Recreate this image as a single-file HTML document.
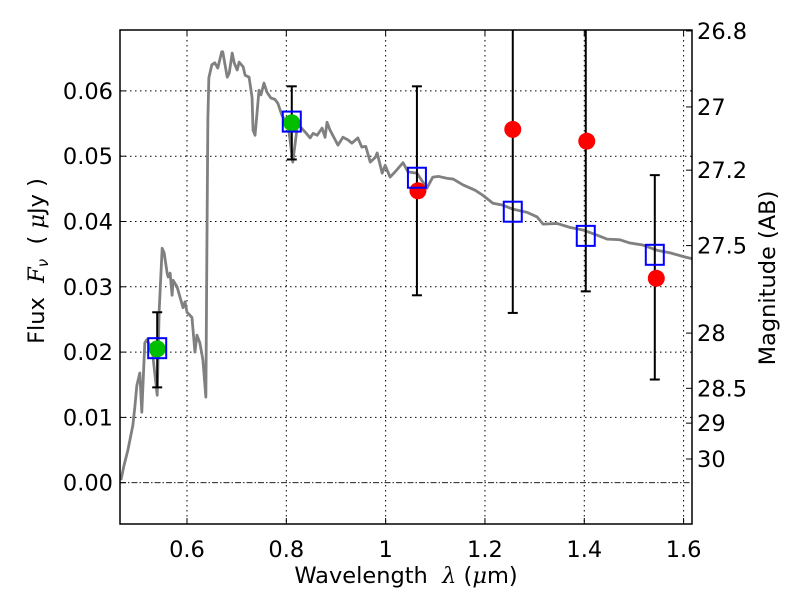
<!DOCTYPE html>
<html><head><meta charset="utf-8"><style>
body{margin:0;background:#fff}
svg{display:block;font-family:"DejaVu Sans","Liberation Sans",sans-serif}
</style></head><body>
<svg id="chart" width="800" height="600" viewBox="0 0 800 600"></svg>
<script>
const specLam=[0.467,0.473,0.481,0.491,0.495,0.499,0.505,0.509,0.515,0.519,0.530,0.540,0.544,0.550,0.554,0.560,0.562,0.566,0.570,0.572,0.580,0.586,0.592,0.596,0.600,0.610,0.616,0.620,0.626,0.632,0.638,0.640,0.642,0.644,0.650,0.656,0.662,0.670,0.672,0.681,0.685,0.691,0.695,0.701,0.705,0.713,0.717,0.725,0.731,0.733,0.737,0.741,0.745,0.749,0.755,0.761,0.769,0.777,0.783,0.791,0.797,0.803,0.813,0.822,0.828,0.838,0.848,0.854,0.862,0.872,0.878,0.882,0.888,0.904,0.914,0.924,0.932,0.944,0.952,0.960,0.969,0.979,0.983,0.993,0.999,1.009,1.019,1.035,1.045,1.063,1.083,1.095,1.107,1.124,1.136,1.156,1.180,1.196,1.216,1.236,1.256,1.285,1.305,1.317,1.345,1.371,1.397,1.426,1.446,1.472,1.492,1.518,1.546,1.573,1.601,1.617];
const specFlux=[0.0004,0.0026,0.0050,0.0088,0.0116,0.0149,0.0168,0.0108,0.0214,0.0219,0.0203,0.0134,0.0264,0.0359,0.0352,0.0321,0.0315,0.0321,0.0287,0.0310,0.0300,0.0284,0.0268,0.0277,0.0261,0.0253,0.0200,0.0226,0.0214,0.0188,0.0131,0.0352,0.0556,0.0620,0.0640,0.0643,0.0635,0.0660,0.0660,0.0621,0.0627,0.0658,0.0643,0.0632,0.0644,0.0637,0.0624,0.0621,0.0590,0.0540,0.0532,0.0566,0.0601,0.0594,0.0612,0.0598,0.0589,0.0587,0.0581,0.0563,0.0555,0.0552,0.0491,0.0545,0.0545,0.0537,0.0528,0.0535,0.0532,0.0543,0.0529,0.0552,0.0540,0.0517,0.0529,0.0525,0.0520,0.0528,0.0514,0.0515,0.0491,0.0498,0.0505,0.0474,0.0486,0.0468,0.0476,0.0490,0.0476,0.0474,0.0451,0.0468,0.0469,0.0466,0.0465,0.0456,0.0448,0.0440,0.0428,0.0425,0.0419,0.0414,0.0407,0.0396,0.0397,0.0391,0.0387,0.0379,0.0373,0.0372,0.0367,0.0364,0.0356,0.0352,0.0346,0.0343];
const modelLam=[0.54,0.811,1.063,1.256,1.403,1.542];
const modelFlux=[0.0206,0.0553,0.0467,0.0415,0.0378,0.0349];
const errLow=[0.0146,0.0495,0.0287,0.0260,0.0293,0.0158];
const errHigh=[0.0261,0.0607,0.0607,0.080,0.080,0.0471];
const greenLam=[0.54,0.811];
const greenFlux=[0.0205,0.0551];
const redLam=[1.065,1.256,1.405,1.545];
const redFlux=[0.0447,0.0541,0.0523,0.0313];
const xTicks=[0.6,0.8,1.0,1.2,1.4,1.6];
const xTickLabels=["0.6","0.8","1","1.2","1.4","1.6"];
const yTicks=[0,0.01,0.02,0.03,0.04,0.05,0.06];
const yTickLabels=["0.00","0.01","0.02","0.03","0.04","0.05","0.06"];
const magTicks=[26.8,27,27.2,27.5,28,28.5,29,30];
const magTickLabels=["26.8","27","27.2","27.5","28","28.5","29","30"];

const L=120,R=692,T=30,B=524;
const X=l=>187+(l-0.6)*496.6;
const Y=f=>482.7-f*6530;
const NS="http://www.w3.org/2000/svg";
const svg=document.getElementById('chart');
function mk(tag,attrs,parent){const e=document.createElementNS(NS,tag);for(const k in attrs)e.setAttribute(k,attrs[k]);(parent||svg).appendChild(e);return e;}
const defs=mk('defs',{});
const cp=mk('clipPath',{id:'pc'},defs);mk('rect',{x:L,y:T,width:R-L,height:B-T},cp);

const grid=mk('g',{});


xTicks.forEach(t=>{mk('line',{x1:X(t),x2:X(t),y1:T,y2:B,stroke:'#000','stroke-width':1,'stroke-dasharray':'1.5,3.5'},grid);});
yTicks.forEach(t=>{if(t===0)return;mk('line',{x1:L,x2:R,y1:Y(t),y2:Y(t),stroke:'#000','stroke-width':1,'stroke-dasharray':'1.5,3.5'},grid);});
const zl=mk('line',{x1:L,x2:R,y1:Y(0),y2:Y(0),stroke:'#000','stroke-width':0.8,'stroke-dasharray':'6,2,1.5,2'});



const plot=mk('g',{'clip-path':'url(#pc)'});
const sp=mk('polyline',{points:specLam.map((l,i)=>X(l)+','+Y(specFlux[i])).join(' '),fill:'none',stroke:'#808080','stroke-width':2.8,'stroke-linejoin':'round'},plot);


modelLam.forEach((l,i)=>{
  const g=mk('g',{},plot);
  
  
  const x=X(l);
  mk('line',{x1:x,x2:x,y1:Y(errLow[i]),y2:Y(errHigh[i]),stroke:'#000','stroke-width':2},g);
  mk('line',{x1:x-5,x2:x+5,y1:Y(errLow[i]),y2:Y(errLow[i]),stroke:'#000','stroke-width':2},g);
  mk('line',{x1:x-5,x2:x+5,y1:Y(errHigh[i]),y2:Y(errHigh[i]),stroke:'#000','stroke-width':2},g);
});
greenLam.forEach((l,i)=>{const c=mk('circle',{cx:X(l),cy:Y(greenFlux[i]),r:8.5,fill:'#00bf00'},plot);
  
  });
redLam.forEach((l,i)=>{const c=mk('circle',{cx:X(l),cy:Y(redFlux[i]),r:8.5,fill:'#ff0000'},plot);
  
  });
modelLam.forEach((l,i)=>{const s=mk('rect',{x:X(l)-9,y:Y(modelFlux[i])-10,width:18,height:20,fill:'none',stroke:'#0000ff','stroke-width':2},plot);
  
  });

const fr=mk('rect',{x:L,y:T,width:R-L,height:B-T,fill:'none',stroke:'#000','stroke-width':1.5});



xTicks.forEach((t,i)=>{
  mk('line',{x1:X(t),x2:X(t),y1:B,y2:B-6,stroke:'#000'});
  mk('line',{x1:X(t),x2:X(t),y1:T,y2:T+6,stroke:'#000'});
  const tx=mk('text',{x:X(t),y:557,'font-size':22.5,'text-anchor':'middle'});tx.textContent=xTickLabels[i];
  
  
});
yTicks.forEach((t,i)=>{
  mk('line',{x1:L,x2:L+6,y1:Y(t),y2:Y(t),stroke:'#000'});
  const tx=mk('text',{x:113,y:Y(t)+8,'font-size':22.5,'text-anchor':'end'});tx.textContent=yTickLabels[i];
  
  
});
magTicks.forEach((m,i)=>{
  const f=Math.pow(10,(23.9-m)/2.5);const y=Y(f);
  mk('line',{x1:R-6,x2:R,y1:y,y2:y,stroke:'#000'});
  const tx=mk('text',{x:697,y:y+8,'font-size':22.5});tx.textContent=magTickLabels[i];
  
  
});
const xt=mk('text',{x:406,y:583,'font-size':22.5,'text-anchor':'middle'});
xt.innerHTML='Wavelength &#160;<tspan font-style="italic" font-family="DejaVu Serif,serif">λ</tspan> (<tspan font-style="italic" font-family="DejaVu Serif,serif">μ</tspan>m)';


const yt=mk('text',{x:0,y:0,'font-size':22.5,'text-anchor':'middle',transform:'translate(44,261) rotate(-90)'});
yt.innerHTML='Flux &#160;<tspan font-style="italic" font-family="DejaVu Serif,serif">F</tspan><tspan font-style="italic" font-size="15" dy="4">ν</tspan><tspan dy="-4"> &#160;( </tspan><tspan font-style="italic" font-family="DejaVu Serif,serif">μ</tspan>Jy )';


const rt=mk('text',{x:0,y:0,'font-size':22.5,'text-anchor':'middle',transform:'translate(775,278) rotate(-90)'});
rt.textContent='Magnitude (AB)';


</script>
</body></html>
